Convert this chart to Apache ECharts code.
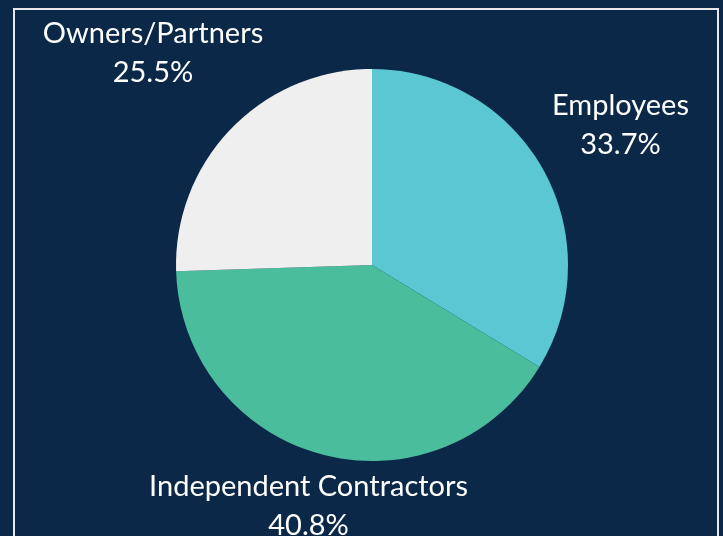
<!DOCTYPE html>
<html>
<head>
<meta charset="utf-8">
<title>Workforce</title>
<script src="https://cdn.jsdelivr.net/npm/echarts@6/dist/echarts.min.js"></script>
<style>
  html, body { margin: 0; padding: 0; background: #0b2848; }
  #main { width: 723px; height: 536px; }
</style>
</head>
<body>
<div id="main"></div>
<script>
var categories = ['Employees', 'Independent Contractors', 'Owners/Partners'];
var shares = [33.7, 40.8, 25.5];
var sliceColors = ['#5bc7d2', '#4abd9d', '#efefef'];
// distance of each label centre from the pie centre
var labelDist = [285, 249, 305];

var cx = 372, cy = 265, r = 196;
var total = shares.reduce(function (a, b) { return a + b; }, 0);

function midAngle(i) {
    var before = 0;
    for (var k = 0; k < i; k++) before += shares[k];
    var frac = (before + shares[i] / 2) / total;
    return (90 - frac * 360) * Math.PI / 180;
}

var myChart = echarts.init(document.getElementById('main'));
var option = {
    backgroundColor: '#0b2848',
    animation: false,
    graphic: [{
        type: 'rect',
        shape: { x: 14, y: 9, width: 704, height: 540 },
        style: { fill: 'none', stroke: '#e8e8e8', lineWidth: 2 }
    }],
    series: [{
        type: 'pie',
        center: [cx, cy],
        radius: r,
        startAngle: 90,
        clockwise: true,
        data: categories.map(function (c, i) {
            return { name: c, value: shares[i], itemStyle: { color: sliceColors[i] } };
        }),
        label: {
            show: true,
            position: 'outside',
            color: '#ffffff',
            fontFamily: 'Lato',
            fontSize: 29,
            lineHeight: 39,
            align: 'center',
            overflow: 'none',
            formatter: function (p) { return p.name + '\n' + p.value.toFixed(1) + '%'; }
        },
        labelLine: { show: false },
        labelLayout: function (p) {
            var a = midAngle(p.dataIndex);
            return {
                x: cx + labelDist[p.dataIndex] * Math.cos(a),
                y: cy - labelDist[p.dataIndex] * Math.sin(a),
                align: 'center',
                verticalAlign: 'middle'
            };
        },
        emphasis: { disabled: true }
    }]
};
myChart.setOption(option);
</script>
</body>
</html>
